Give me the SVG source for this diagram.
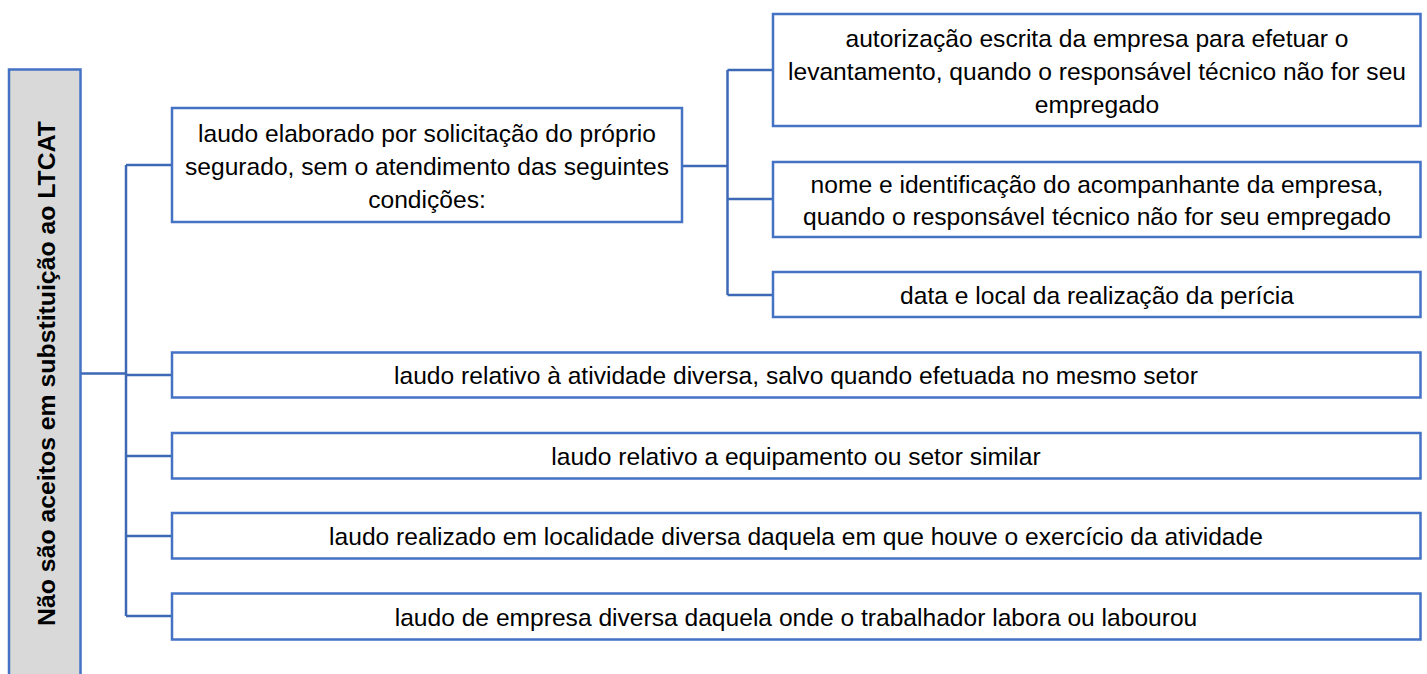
<svg xmlns="http://www.w3.org/2000/svg" width="1427" height="674" viewBox="0 0 1427 674">
<style>
.box{fill:#ffffff;stroke:#4472c4;stroke-width:2.5}
.root{fill:#d9d9d9;stroke:#4472c4;stroke-width:2.5}
.conn{fill:none;stroke:#3d68b5;stroke-width:2.5}
.t{font-family:"Liberation Sans",Arial,sans-serif;font-size:24.6px;fill:#000;text-anchor:middle}
.rt{font-family:"Liberation Sans",Arial,sans-serif;font-size:24.8px;font-weight:bold;fill:#000;text-anchor:middle}
</style>
<rect width="1427" height="674" fill="#ffffff"/>
<g id="connectors">
<path class="conn" d="M80.5,373.5 H126"/>
<path class="conn" d="M126,165 V616"/>
<path class="conn" d="M126,165 H172"/>
<path class="conn" d="M126,375 H172"/>
<path class="conn" d="M126,456 H172"/>
<path class="conn" d="M126,536 H172"/>
<path class="conn" d="M126,616 H172"/>
<path class="conn" d="M682,166 H727.5"/>
<path class="conn" d="M727.5,70 V295"/>
<path class="conn" d="M727.5,70 H773"/>
<path class="conn" d="M727.5,199 H773"/>
<path class="conn" d="M727.5,295 H773"/>
</g>
<g id="root">
<rect class="root" x="9" y="69.5" width="71.5" height="620"/>
<text class="rt" transform="translate(55,373.5) rotate(-90)">Não são aceitos em substituição ao LTCAT</text>
</g>
<g id="nodeA">
<rect class="box" x="172" y="108" width="510" height="114"/>
<text class="t" x="427" y="141.5">laudo elaborado por solicitação do próprio</text>
<text class="t" x="427" y="174.5">segurado, sem o atendimento das seguintes</text>
<text class="t" x="427" y="207.5">condições:</text>
</g>
<g id="nodeA1">
<rect class="box" x="773" y="14" width="647.5" height="112"/>
<text class="t" x="1097" y="46.5">autorização escrita da empresa para efetuar o</text>
<text class="t" x="1097" y="79.5">levantamento, quando o responsável técnico não for seu</text>
<text class="t" x="1097" y="112.5">empregado</text>
</g>
<g id="nodeA2">
<rect class="box" x="773" y="162" width="647.5" height="75"/>
<text class="t" x="1097" y="193">nome e identificação do acompanhante da empresa,</text>
<text class="t" x="1097" y="224.5">quando o responsável técnico não for seu empregado</text>
</g>
<g id="nodeA3">
<rect class="box" x="773" y="272" width="647.5" height="45"/>
<text class="t" x="1097" y="303.5">data e local da realização da perícia</text>
</g>
<g id="nodeB">
<rect class="box" x="172" y="352.5" width="1248.5" height="45"/>
<text class="t" x="796" y="384">laudo relativo à atividade diversa, salvo quando efetuada no mesmo setor</text>
</g>
<g id="nodeC">
<rect class="box" x="172" y="433" width="1248.5" height="45.5"/>
<text class="t" x="796" y="464.5">laudo relativo a equipamento ou setor similar</text>
</g>
<g id="nodeD">
<rect class="box" x="172" y="513" width="1248.5" height="45.5"/>
<text class="t" x="796" y="544.5">laudo realizado em localidade diversa daquela em que houve o exercício da atividade</text>
</g>
<g id="nodeE">
<rect class="box" x="172" y="593.5" width="1248.5" height="46"/>
<text class="t" x="796" y="625.5">laudo de empresa diversa daquela onde o trabalhador labora ou labourou</text>
</g>
</svg>
